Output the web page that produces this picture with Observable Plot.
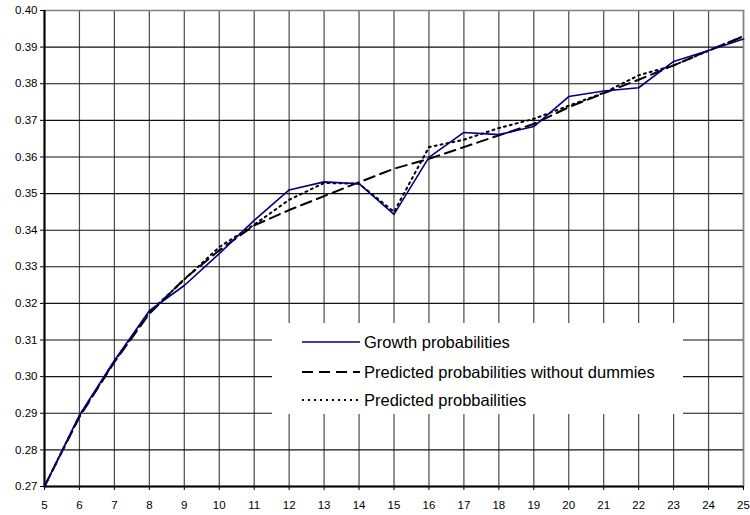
<!DOCTYPE html>
<html>
<head>
<meta charset="utf-8">
<script src="https://cdn.jsdelivr.net/npm/d3@7"></script>
<script src="https://cdn.jsdelivr.net/npm/@observablehq/plot@0.6"></script>
<style>
  body { margin: 0; background: #fff; font-family: "Liberation Sans", Arial, sans-serif; }
  #wrap { position: relative; width: 750px; height: 515px; }
  #legend { position: absolute; left: 272px; top: 323px; width: 411px; height: 91px; background: #fff; }
  .item { position: absolute; left: 30px; display: flex; align-items: center; font-size: 16.5px; line-height: 18px; color: #000; }
  .item svg { margin-right: 4px; }
</style>
</head>
<body>
<div id="wrap"></div>
<script>
const ages = [5, 6, 7, 8, 9, 10, 11, 12, 13, 14, 15, 16, 17, 18, 19, 20, 21, 22, 23, 24, 25];
const growth = [0.2700, 0.2895, 0.3044, 0.3180, 0.3249, 0.3336, 0.3427, 0.3510, 0.3532, 0.3527, 0.3443, 0.3599, 0.3667, 0.3661, 0.3683, 0.3765, 0.3780, 0.3789, 0.3861, 0.3891, 0.3922];
const predNoDummies = [0.2700, 0.2890, 0.3040, 0.3172, 0.3267, 0.3345, 0.3413, 0.3455, 0.3493, 0.3531, 0.3568, 0.3595, 0.3627, 0.3659, 0.3690, 0.3736, 0.3774, 0.3811, 0.3850, 0.3891, 0.3929];
const predicted = [0.2700, 0.2893, 0.3042, 0.3176, 0.3265, 0.3354, 0.3415, 0.3483, 0.3529, 0.3527, 0.3450, 0.3627, 0.3647, 0.3679, 0.3704, 0.3740, 0.3775, 0.3823, 0.3850, 0.3890, 0.3930];
const xTicks = ages;
const yTicks = [0.27, 0.28, 0.29, 0.30, 0.31, 0.32, 0.33, 0.34, 0.35, 0.36, 0.37, 0.38, 0.39, 0.40];
const seriesNames = ["Growth probabilities", "Predicted probabilities without dummies", "Predicted probbailities"];

const rows = (vals) => ages.map((a, i) => ({x: a, y: vals[i]}));

const chart = Plot.plot({
  width: 750,
  height: 515,
  marginLeft: 44,
  marginRight: 7,
  marginTop: 10,
  marginBottom: 29,
  style: {fontFamily: "'Liberation Sans', Arial, sans-serif", fontSize: "11.5px", color: "#000", background: "#fff"},
  x: {domain: [5, 25]},
  y: {domain: [0.27, 0.40]},
  marks: [
    Plot.gridX(xTicks, {stroke: "#4a4a4a", strokeOpacity: 1, strokeWidth: 1.2}),
    Plot.gridY(yTicks, {stroke: "#111", strokeOpacity: 1, strokeWidth: 1.1}),
    Plot.frame({stroke: "#808080", strokeWidth: 1.5}),
    Plot.ruleX([5], {stroke: "#000", strokeWidth: 2}),
    Plot.ruleY([0.27], {stroke: "#000", strokeWidth: 2}),
    Plot.axisX(xTicks, {tickSize: 4, tickPadding: 10, fontSize: 11.5, label: null, tickFormat: d => String(d)}),
    Plot.axisY(yTicks, {tickSize: 4, tickPadding: 3, fontSize: 11.5, label: null, tickFormat: d3.format(".2f")}),
    Plot.line(rows(predicted), {x: "x", y: "y", stroke: "#000", strokeWidth: 2, strokeDasharray: "2,4"}),
    Plot.line(rows(predNoDummies), {x: "x", y: "y", stroke: "#000", strokeWidth: 2, strokeDasharray: "11,6"}),
    Plot.line(rows(growth), {x: "x", y: "y", stroke: "#000080", strokeWidth: 1.6})
  ]
});

const wrap = document.getElementById("wrap");
wrap.appendChild(chart);

const legend = document.createElement("div");
legend.id = "legend";
const styles = [
  {stroke: "#000080", dash: null, w: 1.6},
  {stroke: "#000", dash: "11,6", w: 2},
  {stroke: "#000", dash: "2,4", w: 2}
];
const tops = [10, 40, 68];
seriesNames.forEach((name, i) => {
  const item = document.createElement("div");
  item.className = "item";
  item.style.top = tops[i] + "px";
  const s = styles[i];
  item.innerHTML = `<svg width="58" height="10"><line x1="0" x2="58" y1="5" y2="5" stroke="${s.stroke}" stroke-width="${s.w}" ${s.dash ? `stroke-dasharray="${s.dash}"` : ""}/></svg><span>${name}</span>`;
  legend.appendChild(item);
});
wrap.appendChild(legend);
</script>
</body>
</html>
